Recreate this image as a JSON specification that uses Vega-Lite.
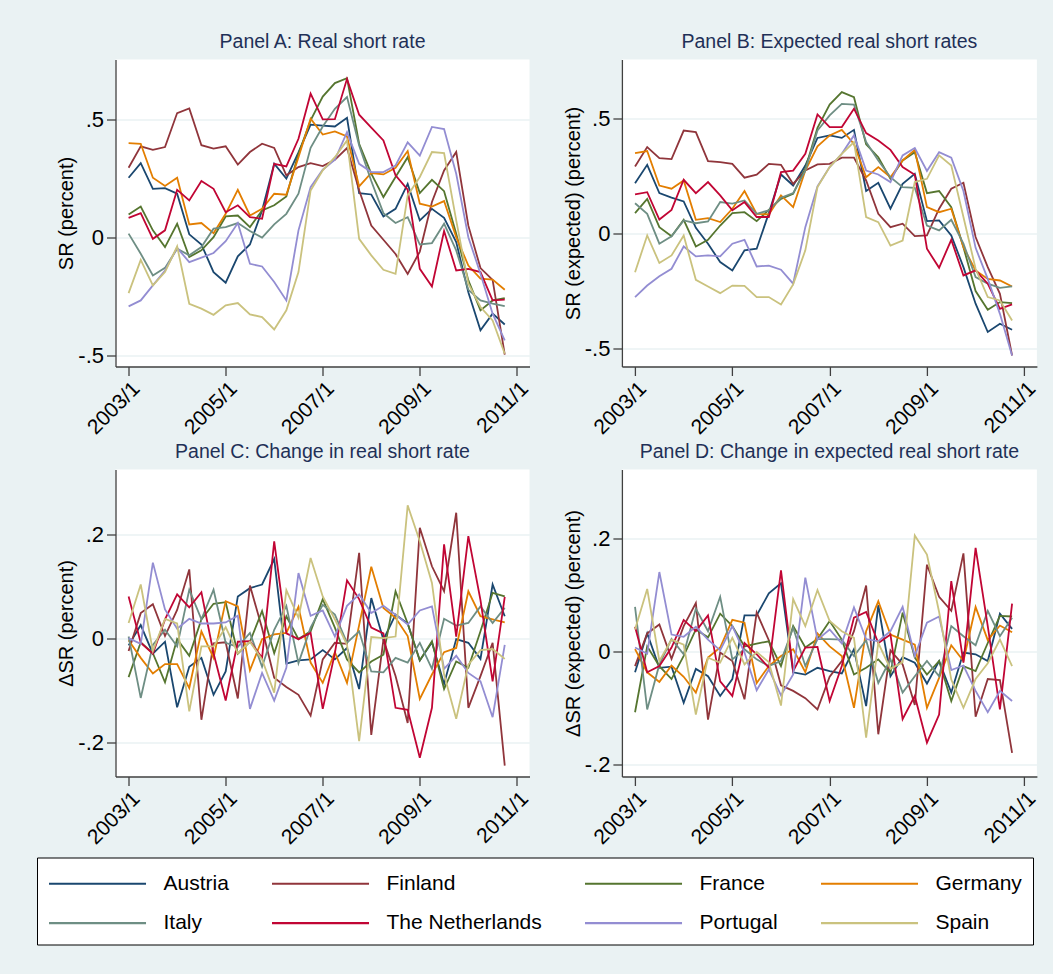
{
"$schema": "https://vega.github.io/schema/vega-lite/v6.json",
"background": "#eaf2f3",
"padding": {"left": 36.5, "top": 31.5, "right": 16.5, "bottom": 28.5},
"data": {"values": [
{"country":"Austria","year":2003,"sr":0.253,"sre":0.217,"dsr":-0.013,"dsre":-0.037},
{"country":"Austria","year":2003.25,"sr":0.315,"sre":0.297,"dsr":0.026,"dsre":0.032},
{"country":"Austria","year":2003.5,"sr":0.206,"sre":0.174,"dsr":-0.029,"dsre":-0.029},
{"country":"Austria","year":2003.75,"sr":0.209,"sre":0.154,"dsr":-0.006,"dsre":-0.027},
{"country":"Austria","year":2004,"sr":0.185,"sre":0.138,"dsr":-0.132,"dsre":-0.091},
{"country":"Austria","year":2004.25,"sr":0.013,"sre":0.023,"dsr":-0.054,"dsre":-0.031},
{"country":"Austria","year":2004.5,"sr":-0.03,"sre":-0.046,"dsr":-0.037,"dsre":-0.044},
{"country":"Austria","year":2004.75,"sr":-0.147,"sre":-0.126,"dsr":-0.108,"dsre":-0.079},
{"country":"Austria","year":2005,"sr":-0.192,"sre":-0.162,"dsr":-0.063,"dsre":-0.049},
{"country":"Austria","year":2005.25,"sr":-0.08,"sre":-0.075,"dsr":0.081,"dsre":0.064},
{"country":"Austria","year":2005.5,"sr":-0.03,"sre":-0.068,"dsr":0.097,"dsre":0.064},
{"country":"Austria","year":2005.75,"sr":0.114,"sre":0.087,"dsr":0.104,"dsre":0.103},
{"country":"Austria","year":2006,"sr":0.312,"sre":0.255,"dsr":0.153,"dsre":0.121},
{"country":"Austria","year":2006.25,"sr":0.249,"sre":0.207,"dsr":-0.048,"dsre":-0.037},
{"country":"Austria","year":2006.5,"sr":0.36,"sre":0.294,"dsr":-0.042,"dsre":-0.041},
{"country":"Austria","year":2006.75,"sr":0.478,"sre":0.414,"dsr":-0.04,"dsre":-0.029},
{"country":"Austria","year":2007,"sr":0.474,"sre":0.425,"dsr":-0.022,"dsre":-0.035},
{"country":"Austria","year":2007.25,"sr":0.47,"sre":0.414,"dsr":-0.04,"dsre":-0.039},
{"country":"Austria","year":2007.5,"sr":0.507,"sre":0.449,"dsr":-0.018,"dsre":0.004},
{"country":"Austria","year":2007.75,"sr":0.188,"sre":0.183,"dsr":-0.097,"dsre":-0.097},
{"country":"Austria","year":2008,"sr":0.182,"sre":0.219,"dsr":0.078,"dsre":0.082},
{"country":"Austria","year":2008.25,"sr":0.089,"sre":0.106,"dsr":-0.002,"dsre":-0.044},
{"country":"Austria","year":2008.5,"sr":0.121,"sre":0.214,"dsr":0.046,"dsre":-0.01},
{"country":"Austria","year":2008.75,"sr":0.227,"sre":0.258,"dsr":0.029,"dsre":-0.02},
{"country":"Austria","year":2009,"sr":0.072,"sre":0.052,"dsr":-0.042,"dsre":-0.057},
{"country":"Austria","year":2009.25,"sr":0.121,"sre":0.055,"dsr":-0.007,"dsre":-0.017},
{"country":"Austria","year":2009.5,"sr":0.083,"sre":-0.01,"dsr":-0.087,"dsre":-0.073},
{"country":"Austria","year":2009.75,"sr":-0.02,"sre":-0.148,"dsr":-0.001,"dsre":-0.002},
{"country":"Austria","year":2010,"sr":-0.232,"sre":-0.307,"dsr":-0.008,"dsre":-0.005},
{"country":"Austria","year":2010.25,"sr":-0.394,"sre":-0.43,"dsr":-0.039,"dsre":-0.017},
{"country":"Austria","year":2010.5,"sr":-0.323,"sre":-0.394,"dsr":0.104,"dsre":0.067},
{"country":"Austria","year":2010.75,"sr":-0.369,"sre":-0.42,"dsr":0.043,"dsre":0.04},
{"country":"Finland","year":2003,"sr":0.295,"sre":0.29,"dsr":-0.024,"dsre":-0.026},
{"country":"Finland","year":2003.25,"sr":0.386,"sre":0.374,"dsr":0.049,"dsre":0.032},
{"country":"Finland","year":2003.5,"sr":0.371,"sre":0.326,"dsr":0.066,"dsre":0.048},
{"country":"Finland","year":2003.75,"sr":0.383,"sre":0.322,"dsr":0.005,"dsre":-0.013},
{"country":"Finland","year":2004,"sr":0.527,"sre":0.446,"dsr":0.055,"dsre":0.045},
{"country":"Finland","year":2004.25,"sr":0.547,"sre":0.439,"dsr":0.133,"dsre":0.086},
{"country":"Finland","year":2004.5,"sr":0.391,"sre":0.313,"dsr":-0.156,"dsre":-0.121},
{"country":"Finland","year":2004.75,"sr":0.376,"sre":0.309,"dsr":-0.009,"dsre":-0.002},
{"country":"Finland","year":2005,"sr":0.386,"sre":0.301,"dsr":-0.007,"dsre":-0.017},
{"country":"Finland","year":2005.25,"sr":0.309,"sre":0.241,"dsr":-0.115,"dsre":-0.085},
{"country":"Finland","year":2005.5,"sr":0.362,"sre":0.254,"dsr":0.102,"dsre":0.069},
{"country":"Finland","year":2005.75,"sr":0.397,"sre":0.301,"dsr":0.02,"dsre":0.02},
{"country":"Finland","year":2006,"sr":0.379,"sre":0.297,"dsr":-0.075,"dsre":-0.06},
{"country":"Finland","year":2006.25,"sr":0.263,"sre":0.214,"dsr":-0.093,"dsre":-0.07},
{"country":"Finland","year":2006.5,"sr":0.298,"sre":0.272,"dsr":-0.108,"dsre":-0.083},
{"country":"Finland","year":2006.75,"sr":0.315,"sre":0.299,"dsr":-0.148,"dsre":-0.103},
{"country":"Finland","year":2007,"sr":0.302,"sre":0.301,"dsr":-0.04,"dsre":-0.045},
{"country":"Finland","year":2007.25,"sr":0.329,"sre":0.328,"dsr":-0.008,"dsre":-0.017},
{"country":"Finland","year":2007.5,"sr":0.379,"sre":0.328,"dsr":-0.01,"dsre":0.036},
{"country":"Finland","year":2007.75,"sr":0.2,"sre":0.229,"dsr":0.165,"dsre":0.117},
{"country":"Finland","year":2008,"sr":0.05,"sre":0.084,"dsr":-0.185,"dsre":-0.147},
{"country":"Finland","year":2008.25,"sr":-0.01,"sre":0.026,"dsr":-0.002,"dsre":0.002},
{"country":"Finland","year":2008.5,"sr":-0.07,"sre":0.041,"dsr":-0.072,"dsre":-0.023},
{"country":"Finland","year":2008.75,"sr":-0.155,"sre":-0.013,"dsr":-0.162,"dsre":-0.095},
{"country":"Finland","year":2009,"sr":-0.06,"sre":-0.01,"dsr":0.213,"dsre":0.154},
{"country":"Finland","year":2009.25,"sr":0.15,"sre":0.106,"dsr":0.139,"dsre":0.097},
{"country":"Finland","year":2009.5,"sr":0.284,"sre":0.193,"dsr":0.091,"dsre":0.072},
{"country":"Finland","year":2009.75,"sr":0.362,"sre":0.219,"dsr":0.242,"dsre":0.174},
{"country":"Finland","year":2010,"sr":0.05,"sre":-0.017,"dsr":-0.133,"dsre":-0.116},
{"country":"Finland","year":2010.25,"sr":-0.13,"sre":-0.148,"dsr":-0.072,"dsre":-0.049},
{"country":"Finland","year":2010.5,"sr":-0.18,"sre":-0.264,"dsr":-0.008,"dsre":-0.051},
{"country":"Finland","year":2010.75,"sr":-0.497,"sre":-0.532,"dsr":-0.244,"dsre":-0.18},
{"country":"France","year":2003,"sr":0.097,"sre":0.087,"dsr":-0.074,"dsre":-0.108},
{"country":"France","year":2003.25,"sr":0.131,"sre":0.149,"dsr":-0.007,"dsre":0.009},
{"country":"France","year":2003.5,"sr":0.03,"sre":0.026,"dsr":-0.028,"dsre":-0.026},
{"country":"France","year":2003.75,"sr":-0.041,"sre":-0.014,"dsr":-0.084,"dsre":-0.049},
{"country":"France","year":2004,"sr":0.058,"sre":0.058,"dsr":-0.001,"dsre":-0.008},
{"country":"France","year":2004.25,"sr":-0.083,"sre":-0.058,"dsr":-0.033,"dsre":0.039},
{"country":"France","year":2004.5,"sr":-0.055,"sre":-0.029,"dsr":0.037,"dsre":0.025},
{"country":"France","year":2004.75,"sr":0.001,"sre":0.033,"dsr":0.067,"dsre":0.067},
{"country":"France","year":2005,"sr":0.089,"sre":0.087,"dsr":0.07,"dsre":0.045},
{"country":"France","year":2005.25,"sr":0.093,"sre":0.091,"dsr":-0.029,"dsre":0.009},
{"country":"France","year":2005.5,"sr":0.044,"sre":0.052,"dsr":-0.006,"dsre":0.014},
{"country":"France","year":2005.75,"sr":0.114,"sre":0.101,"dsr":0.053,"dsre":0.018},
{"country":"France","year":2006,"sr":0.136,"sre":0.149,"dsr":-0.028,"dsre":-0.026},
{"country":"France","year":2006.25,"sr":0.174,"sre":0.171,"dsr":0.043,"dsre":0.045},
{"country":"France","year":2006.5,"sr":0.355,"sre":0.28,"dsr":-0.001,"dsre":0.007},
{"country":"France","year":2006.75,"sr":0.496,"sre":0.458,"dsr":0.014,"dsre":0.022},
{"country":"France","year":2007,"sr":0.597,"sre":0.559,"dsr":0.076,"dsre":0.054},
{"country":"France","year":2007.25,"sr":0.654,"sre":0.613,"dsr":0.021,"dsre":0.021},
{"country":"France","year":2007.5,"sr":0.675,"sre":0.591,"dsr":-0.04,"dsre":-0.041},
{"country":"France","year":2007.75,"sr":0.397,"sre":0.386,"dsr":-0.065,"dsre":-0.029},
{"country":"France","year":2008,"sr":0.27,"sre":0.33,"dsr":-0.044,"dsre":-0.014},
{"country":"France","year":2008.25,"sr":0.171,"sre":0.236,"dsr":-0.031,"dsre":-0.038},
{"country":"France","year":2008.5,"sr":0.256,"sre":0.316,"dsr":0.091,"dsre":0.069},
{"country":"France","year":2008.75,"sr":0.34,"sre":0.352,"dsr":0.029,"dsre":-0.011},
{"country":"France","year":2009,"sr":0.188,"sre":0.174,"dsr":-0.042,"dsre":-0.041},
{"country":"France","year":2009.25,"sr":0.244,"sre":0.183,"dsr":-0.005,"dsre":-0.017},
{"country":"France","year":2009.5,"sr":0.196,"sre":0.113,"dsr":-0.097,"dsre":-0.088},
{"country":"France","year":2009.75,"sr":0.016,"sre":-0.061,"dsr":-0.044,"dsre":-0.026},
{"country":"France","year":2010,"sr":-0.182,"sre":-0.252,"dsr":-0.056,"dsre":-0.035},
{"country":"France","year":2010.25,"sr":-0.309,"sre":-0.333,"dsr":0.014,"dsre":0.015},
{"country":"France","year":2010.5,"sr":-0.267,"sre":-0.3,"dsr":0.088,"dsre":0.063},
{"country":"France","year":2010.75,"sr":-0.257,"sre":-0.304,"dsr":0.081,"dsre":0.062},
{"country":"Germany","year":2003,"sr":0.4,"sre":0.348,"dsr":-0.003,"dsre":0.004},
{"country":"Germany","year":2003.25,"sr":0.397,"sre":0.357,"dsr":-0.037,"dsre":-0.037},
{"country":"Germany","year":2003.5,"sr":0.253,"sre":0.207,"dsr":-0.067,"dsre":-0.054},
{"country":"Germany","year":2003.75,"sr":0.218,"sre":0.193,"dsr":-0.049,"dsre":-0.025},
{"country":"Germany","year":2004,"sr":0.253,"sre":0.229,"dsr":-0.049,"dsre":-0.045},
{"country":"Germany","year":2004.25,"sr":0.055,"sre":0.058,"dsr":-0.095,"dsre":-0.073},
{"country":"Germany","year":2004.5,"sr":0.061,"sre":0.065,"dsr":0.014,"dsre":-0.011},
{"country":"Germany","year":2004.75,"sr":0.018,"sre":0.048,"dsr":-0.037,"dsre":0.007},
{"country":"Germany","year":2005,"sr":0.1,"sre":0.106,"dsr":0.072,"dsre":0.056},
{"country":"Germany","year":2005.25,"sr":0.202,"sre":0.183,"dsr":0.062,"dsre":0.051},
{"country":"Germany","year":2005.5,"sr":0.093,"sre":0.084,"dsr":-0.061,"dsre":-0.056},
{"country":"Germany","year":2005.75,"sr":0.121,"sre":0.081,"dsr":-0.001,"dsre":-0.026},
{"country":"Germany","year":2006,"sr":0.185,"sre":0.164,"dsr":0.008,"dsre":-0.008},
{"country":"Germany","year":2006.25,"sr":0.181,"sre":0.113,"dsr":0.011,"dsre":0.004},
{"country":"Germany","year":2006.5,"sr":0.34,"sre":0.272,"dsr":0.061,"dsre":-0.037},
{"country":"Germany","year":2006.75,"sr":0.503,"sre":0.377,"dsr":-0.046,"dsre":0.032},
{"country":"Germany","year":2007,"sr":0.436,"sre":0.425,"dsr":-0.085,"dsre":0.009},
{"country":"Germany","year":2007.25,"sr":0.449,"sre":0.449,"dsr":-0.026,"dsre":-0.008},
{"country":"Germany","year":2007.5,"sr":0.428,"sre":0.388,"dsr":-0.085,"dsre":-0.1},
{"country":"Germany","year":2007.75,"sr":0.216,"sre":0.243,"dsr":0.026,"dsre":0.036},
{"country":"Germany","year":2008,"sr":0.273,"sre":0.287,"dsr":0.138,"dsre":0.089},
{"country":"Germany","year":2008.25,"sr":0.267,"sre":0.243,"dsr":0.059,"dsre":0.03},
{"country":"Germany","year":2008.5,"sr":0.295,"sre":0.316,"dsr":0.04,"dsre":0.021},
{"country":"Germany","year":2008.75,"sr":0.366,"sre":0.362,"dsr":0.005,"dsre":0.012},
{"country":"Germany","year":2009,"sr":0.143,"sre":0.113,"dsr":-0.116,"dsre":-0.1},
{"country":"Germany","year":2009.25,"sr":0.131,"sre":0.091,"dsr":-0.069,"dsre":-0.047},
{"country":"Germany","year":2009.5,"sr":0.154,"sre":0.106,"dsr":-0.026,"dsre":0.011},
{"country":"Germany","year":2009.75,"sr":0.001,"sre":-0.061,"dsr":-0.018,"dsre":-0.017},
{"country":"Germany","year":2010,"sr":-0.119,"sre":-0.162,"dsr":0.091,"dsre":0.079},
{"country":"Germany","year":2010.25,"sr":-0.175,"sre":-0.199,"dsr":0.043,"dsre":0.02},
{"country":"Germany","year":2010.5,"sr":-0.179,"sre":-0.206,"dsr":0.037,"dsre":0.046},
{"country":"Germany","year":2010.75,"sr":-0.222,"sre":-0.232,"dsr":0.031,"dsre":0.034},
{"country":"Italy","year":2003,"sr":0.016,"sre":0.13,"dsr":0.004,"dsre":0.079},
{"country":"Italy","year":2003.25,"sr":-0.069,"sre":0.084,"dsr":-0.114,"dsre":-0.103},
{"country":"Italy","year":2003.5,"sr":-0.161,"sre":-0.046,"dsr":-0.012,"dsre":-0.023},
{"country":"Italy","year":2003.75,"sr":-0.129,"sre":-0.014,"dsr":0.017,"dsre":0.022},
{"country":"Italy","year":2004,"sr":-0.048,"sre":0.055,"dsr":-0.015,"dsre":-0.005},
{"country":"Italy","year":2004.25,"sr":-0.076,"sre":0.043,"dsr":0.094,"dsre":0.076},
{"country":"Italy","year":2004.5,"sr":-0.041,"sre":0.051,"dsr":0.037,"dsre":0.036},
{"country":"Italy","year":2004.75,"sr":0.037,"sre":0.135,"dsr":0.094,"dsre":0.097},
{"country":"Italy","year":2005,"sr":0.044,"sre":0.128,"dsr":-0.008,"dsre":-0.014},
{"country":"Italy","year":2005.25,"sr":0.061,"sre":0.142,"dsr":-0.016,"dsre":0.004},
{"country":"Italy","year":2005.5,"sr":0.027,"sre":0.084,"dsr":0.011,"dsre":-0.014},
{"country":"Italy","year":2005.75,"sr":-0.001,"sre":0.099,"dsr":-0.054,"dsre":-0.026},
{"country":"Italy","year":2006,"sr":0.055,"sre":0.154,"dsr":0.017,"dsre":-0.017},
{"country":"Italy","year":2006.25,"sr":0.1,"sre":0.174,"dsr":0.063,"dsre":0.042},
{"country":"Italy","year":2006.5,"sr":0.185,"sre":0.272,"dsr":-0.047,"dsre":-0.026},
{"country":"Italy","year":2006.75,"sr":0.38,"sre":0.446,"dsr":0.021,"dsre":0.022},
{"country":"Italy","year":2007,"sr":0.47,"sre":0.512,"dsr":0.065,"dsre":0.022},
{"country":"Italy","year":2007.25,"sr":0.545,"sre":0.562,"dsr":0.046,"dsre":0.021},
{"country":"Italy","year":2007.5,"sr":0.595,"sre":0.559,"dsr":-0.008,"dsre":-0.008},
{"country":"Italy","year":2007.75,"sr":0.39,"sre":0.396,"dsr":0.014,"dsre":0.02},
{"country":"Italy","year":2008,"sr":0.239,"sre":0.316,"dsr":-0.063,"dsre":-0.056},
{"country":"Italy","year":2008.25,"sr":0.103,"sre":0.243,"dsr":-0.065,"dsre":-0.014},
{"country":"Italy","year":2008.5,"sr":0.061,"sre":0.2,"dsr":-0.037,"dsre":-0.073},
{"country":"Italy","year":2008.75,"sr":0.086,"sre":0.197,"dsr":-0.046,"dsre":-0.044},
{"country":"Italy","year":2009,"sr":-0.03,"sre":0.033,"dsr":-0.008,"dsre":-0.017},
{"country":"Italy","year":2009.25,"sr":-0.024,"sre":0.012,"dsr":-0.058,"dsre":-0.044},
{"country":"Italy","year":2009.5,"sr":0.058,"sre":0.058,"dsr":0.038,"dsre":0.045},
{"country":"Italy","year":2009.75,"sr":-0.055,"sre":-0.046,"dsr":0.025,"dsre":0.027},
{"country":"Italy","year":2010,"sr":-0.222,"sre":-0.191,"dsr":0.03,"dsre":0.011},
{"country":"Italy","year":2010.25,"sr":-0.267,"sre":-0.22,"dsr":0.062,"dsre":0.072},
{"country":"Italy","year":2010.5,"sr":-0.281,"sre":-0.238,"dsr":0.03,"dsre":0.027},
{"country":"Italy","year":2010.75,"sr":-0.291,"sre":-0.232,"dsr":0.059,"dsre":0.06},
{"country":"The Netherlands","year":2003,"sr":0.083,"sre":0.168,"dsr":0.081,"dsre":0.044},
{"country":"The Netherlands","year":2003.25,"sr":0.103,"sre":0.178,"dsr":-0.008,"dsre":-0.037},
{"country":"The Netherlands","year":2003.5,"sr":-0.006,"sre":0.059,"dsr":-0.029,"dsre":-0.026},
{"country":"The Netherlands","year":2003.75,"sr":0.03,"sre":0.101,"dsr":0.037,"dsre":0.007},
{"country":"The Netherlands","year":2004,"sr":0.202,"sre":0.232,"dsr":0.085,"dsre":0.056},
{"country":"The Netherlands","year":2004.25,"sr":0.157,"sre":0.174,"dsr":0.06,"dsre":0.036},
{"country":"The Netherlands","year":2004.5,"sr":0.239,"sre":0.222,"dsr":0.089,"dsre":0.064},
{"country":"The Netherlands","year":2004.75,"sr":0.206,"sre":0.164,"dsr":-0.028,"dsre":-0.053},
{"country":"The Netherlands","year":2005,"sr":0.107,"sre":0.099,"dsr":-0.119,"dsre":-0.079},
{"country":"The Netherlands","year":2005.25,"sr":0.136,"sre":0.135,"dsr":-0.006,"dsre":0.015},
{"country":"The Netherlands","year":2005.5,"sr":0.086,"sre":0.07,"dsr":-0.005,"dsre":-0.005},
{"country":"The Netherlands","year":2005.75,"sr":0.079,"sre":0.07,"dsr":-0.037,"dsre":-0.029},
{"country":"The Netherlands","year":2006,"sr":0.312,"sre":0.265,"dsr":0.187,"dsre":0.144},
{"country":"The Netherlands","year":2006.25,"sr":0.301,"sre":0.272,"dsr":0.01,"dsre":-0.035},
{"country":"The Netherlands","year":2006.5,"sr":0.418,"sre":0.345,"dsr":-0.001,"dsre":0.007},
{"country":"The Netherlands","year":2006.75,"sr":0.609,"sre":0.516,"dsr":0.011,"dsre":0.008},
{"country":"The Netherlands","year":2007,"sr":0.5,"sre":0.461,"dsr":-0.135,"dsre":-0.088},
{"country":"The Netherlands","year":2007.25,"sr":0.501,"sre":0.461,"dsr":-0.028,"dsre":-0.026},
{"country":"The Netherlands","year":2007.5,"sr":0.672,"sre":0.541,"dsr":0.112,"dsre":0.06},
{"country":"The Netherlands","year":2007.75,"sr":0.52,"sre":0.435,"dsr":0.076,"dsre":0.07},
{"country":"The Netherlands","year":2008,"sr":0.465,"sre":0.403,"dsr":0.021,"dsre":0.015},
{"country":"The Netherlands","year":2008.25,"sr":0.411,"sre":0.362,"dsr":0.01,"dsre":0.03},
{"country":"The Netherlands","year":2008.5,"sr":0.263,"sre":0.287,"dsr":-0.133,"dsre":-0.12},
{"country":"The Netherlands","year":2008.75,"sr":0.202,"sre":0.254,"dsr":-0.137,"dsre":-0.079},
{"country":"The Netherlands","year":2009,"sr":-0.133,"sre":-0.068,"dsr":-0.229,"dsre":-0.162},
{"country":"The Netherlands","year":2009.25,"sr":-0.208,"sre":-0.151,"dsr":-0.133,"dsre":-0.112},
{"country":"The Netherlands","year":2009.5,"sr":0.027,"sre":-0.029,"dsr":0.181,"dsre":0.125},
{"country":"The Netherlands","year":2009.75,"sr":-0.14,"sre":-0.184,"dsr":0.004,"dsre":-0.02},
{"country":"The Netherlands","year":2010,"sr":-0.133,"sre":-0.162,"dsr":0.197,"dsre":0.184},
{"country":"The Netherlands","year":2010.25,"sr":-0.147,"sre":-0.22,"dsr":0.074,"dsre":0.045},
{"country":"The Netherlands","year":2010.5,"sr":-0.267,"sre":-0.329,"dsr":-0.082,"dsre":-0.103},
{"country":"The Netherlands","year":2010.75,"sr":-0.264,"sre":-0.31,"dsr":0.08,"dsre":0.085},
{"country":"Portugal","year":2003,"sr":-0.292,"sre":-0.278,"dsr":0.001,"dsre":0.007},
{"country":"Portugal","year":2003.25,"sr":-0.267,"sre":-0.228,"dsr":-0.01,"dsre":-0.004},
{"country":"Portugal","year":2003.5,"sr":-0.203,"sre":-0.188,"dsr":0.146,"dsre":0.141},
{"country":"Portugal","year":2003.75,"sr":-0.14,"sre":-0.155,"dsr":0.056,"dsre":0.03},
{"country":"Portugal","year":2004,"sr":-0.044,"sre":-0.058,"dsr":0.019,"dsre":0.026},
{"country":"Portugal","year":2004.25,"sr":-0.105,"sre":-0.101,"dsr":0.038,"dsre":0.044},
{"country":"Portugal","year":2004.5,"sr":-0.086,"sre":-0.097,"dsr":0.029,"dsre":0.021},
{"country":"Portugal","year":2004.75,"sr":-0.066,"sre":-0.101,"dsr":0.029,"dsre":0.002},
{"country":"Portugal","year":2005,"sr":-0.016,"sre":-0.046,"dsr":0.031,"dsre":0.045},
{"country":"Portugal","year":2005.25,"sr":0.061,"sre":-0.029,"dsr":0.044,"dsre":-0.002},
{"country":"Portugal","year":2005.5,"sr":-0.112,"sre":-0.145,"dsr":-0.135,"dsre":-0.069},
{"country":"Portugal","year":2005.75,"sr":-0.123,"sre":-0.141,"dsr":-0.066,"dsre":-0.032},
{"country":"Portugal","year":2006,"sr":-0.189,"sre":-0.159,"dsr":-0.119,"dsre":-0.078},
{"country":"Portugal","year":2006.25,"sr":-0.267,"sre":-0.22,"dsr":-0.056,"dsre":-0.041},
{"country":"Portugal","year":2006.5,"sr":0.03,"sre":0.026,"dsr":0.126,"dsre":0.131},
{"country":"Portugal","year":2006.75,"sr":0.213,"sre":0.203,"dsr":0.044,"dsre":0.021},
{"country":"Portugal","year":2007,"sr":0.287,"sre":0.287,"dsr":0.054,"dsre":0.039},
{"country":"Portugal","year":2007.25,"sr":0.329,"sre":0.345,"dsr":0.004,"dsre":0.014},
{"country":"Portugal","year":2007.5,"sr":0.446,"sre":0.425,"dsr":0.063,"dsre":0.078},
{"country":"Portugal","year":2007.75,"sr":0.312,"sre":0.272,"dsr":0.085,"dsre":0.022},
{"country":"Portugal","year":2008,"sr":0.277,"sre":0.255,"dsr":0.049,"dsre":0.018},
{"country":"Portugal","year":2008.25,"sr":0.277,"sre":0.222,"dsr":0.063,"dsre":0.036},
{"country":"Portugal","year":2008.5,"sr":0.305,"sre":0.338,"dsr":0.046,"dsre":0.079},
{"country":"Portugal","year":2008.75,"sr":0.403,"sre":0.37,"dsr":0.027,"dsre":-0.008},
{"country":"Portugal","year":2009,"sr":0.347,"sre":0.27,"dsr":0.054,"dsre":0.051},
{"country":"Portugal","year":2009.25,"sr":0.468,"sre":0.352,"dsr":0.062,"dsre":0.062},
{"country":"Portugal","year":2009.5,"sr":0.459,"sre":0.328,"dsr":-0.058,"dsre":-0.033},
{"country":"Portugal","year":2009.75,"sr":0.27,"sre":0.183,"dsr":-0.033,"dsre":-0.025},
{"country":"Portugal","year":2010,"sr":0.001,"sre":-0.064,"dsr":-0.066,"dsre":-0.07},
{"country":"Portugal","year":2010.25,"sr":-0.154,"sre":-0.199,"dsr":-0.082,"dsre":-0.108},
{"country":"Portugal","year":2010.5,"sr":-0.323,"sre":-0.351,"dsr":-0.151,"dsre":-0.07},
{"country":"Portugal","year":2010.75,"sr":-0.436,"sre":-0.532,"dsr":-0.012,"dsre":-0.088},
{"country":"Spain","year":2003,"sr":-0.236,"sre":-0.17,"dsr":0.03,"dsre":0.039},
{"country":"Spain","year":2003.25,"sr":-0.095,"sre":-0.01,"dsr":0.104,"dsre":0.111},
{"country":"Spain","year":2003.5,"sr":-0.203,"sre":-0.13,"dsr":-0.024,"dsre":-0.017},
{"country":"Spain","year":2003.75,"sr":-0.147,"sre":-0.097,"dsr":0.038,"dsre":0.021},
{"country":"Spain","year":2004,"sr":-0.038,"sre":-0.01,"dsr":0.029,"dsre":0.012},
{"country":"Spain","year":2004.25,"sr":-0.281,"sre":-0.203,"dsr":-0.14,"dsre":-0.112},
{"country":"Spain","year":2004.5,"sr":-0.302,"sre":-0.232,"dsr":-0.015,"dsre":-0.011},
{"country":"Spain","year":2004.75,"sr":-0.328,"sre":-0.261,"dsr":-0.015,"dsre":-0.02},
{"country":"Spain","year":2005,"sr":-0.288,"sre":-0.228,"dsr":0.022,"dsre":0.024},
{"country":"Spain","year":2005.25,"sr":-0.278,"sre":-0.229,"dsr":-0.028,"dsre":-0.023},
{"country":"Spain","year":2005.5,"sr":-0.326,"sre":-0.278,"dsr":-0.006,"dsre":-0.001},
{"country":"Spain","year":2005.75,"sr":-0.338,"sre":-0.278,"dsr":-0.04,"dsre":-0.019},
{"country":"Spain","year":2006,"sr":-0.39,"sre":-0.31,"dsr":-0.104,"dsre":-0.096},
{"country":"Spain","year":2006.25,"sr":-0.309,"sre":-0.223,"dsr":0.093,"dsre":0.093},
{"country":"Spain","year":2006.5,"sr":-0.147,"sre":-0.075,"dsr":0.04,"dsre":0.045},
{"country":"Spain","year":2006.75,"sr":0.199,"sre":0.2,"dsr":0.155,"dsre":0.109},
{"country":"Spain","year":2007,"sr":0.284,"sre":0.287,"dsr":0.081,"dsre":0.054},
{"country":"Spain","year":2007.25,"sr":0.34,"sre":0.345,"dsr":0.037,"dsre":0.036},
{"country":"Spain","year":2007.5,"sr":0.411,"sre":0.396,"dsr":-0.012,"dsre":0.024},
{"country":"Spain","year":2007.75,"sr":-0.006,"sre":0.07,"dsr":-0.197,"dsre":-0.153},
{"country":"Spain","year":2008,"sr":-0.076,"sre":0.048,"dsr":0.003,"dsre":0.015},
{"country":"Spain","year":2008.25,"sr":-0.137,"sre":-0.054,"dsr":0.001,"dsre":-0.031},
{"country":"Spain","year":2008.5,"sr":-0.154,"sre":-0.032,"dsr":0.004,"dsre":-0.019},
{"country":"Spain","year":2008.75,"sr":0.178,"sre":0.222,"dsr":0.256,"dsre":0.206},
{"country":"Spain","year":2009,"sr":0.256,"sre":0.236,"dsr":0.187,"dsre":0.172},
{"country":"Spain","year":2009.25,"sr":0.362,"sre":0.338,"dsr":0.107,"dsre":0.07},
{"country":"Spain","year":2009.5,"sr":0.357,"sre":0.294,"dsr":-0.069,"dsre":-0.05},
{"country":"Spain","year":2009.75,"sr":0.072,"sre":0.07,"dsr":-0.154,"dsre":-0.1},
{"country":"Spain","year":2010,"sr":-0.196,"sre":-0.155,"dsr":-0.05,"dsre":-0.049},
{"country":"Spain","year":2010.25,"sr":-0.295,"sre":-0.278,"dsr":-0.022,"dsre":-0.021},
{"country":"Spain","year":2010.5,"sr":-0.352,"sre":-0.293,"dsr":-0.02,"dsre":0.021},
{"country":"Spain","year":2010.75,"sr":-0.493,"sre":-0.38,"dsr":-0.039,"dsre":-0.026}
]},
"columns": 2,
"spacing": {"row": 103, "column": 92.4},
"bounds": "flush",
"resolve": {"scale": {"color": "shared"}, "legend": {"color": "shared"}},
"concat": [
{
"width": 414, "height": 307,
"title": "Panel A: Real short rate",
"mark": {"type": "line", "strokeWidth": 1.8},
"encoding": {
"x": {"field": "year", "type": "quantitative", "scale": {"domain": [2002.73, 2011.26], "nice": false, "zero": false}, "axis": {"values": [2003, 2005, 2007, 2009, 2011], "labelExpr": "datum.value + '/1'", "title": null}},
"y": {"field": "sr", "type": "quantitative", "scale": {"domain": [-0.547, 0.754], "nice": false, "zero": false}, "axis": {"values": [-0.5, 0, 0.5], "labelExpr": "datum.value == 0 ? '0' : (datum.value < 0 ? '-' : '') + substring(toString(abs(datum.value)), 1)", "title": "SR (percent)"}},
"color": {"field": "country", "type": "nominal", "scale": {"domain": ["Austria", "Finland", "France", "Germany", "Italy", "The Netherlands", "Portugal", "Spain"], "range": ["#1a476f", "#90353b", "#55752f", "#e37e00", "#6e8e84", "#c10534", "#938dd2", "#cac27e"]}, "legend": {"orient": "none", "legendX": -78.5, "legendY": 798, "title": null, "columns": 4, "direction": "horizontal", "symbolType": "M-1,0H5.93", "symbolSize": 784, "symbolStrokeWidth": 2.2, "labelFontSize": 21, "labelFont": "Liberation Sans", "labelColor": "black", "labelOffset": 85, "labelLimit": 400, "columnPadding": 38, "rowPadding": 13.6, "padding": 10.5, "fillColor": "white", "strokeColor": "black", "cornerRadius": 0}}
}
},
{
"width": 415, "height": 307,
"title": "Panel B: Expected real short rates",
"mark": {"type": "line", "strokeWidth": 1.8},
"encoding": {
"x": {"field": "year", "type": "quantitative", "scale": {"domain": [2002.73, 2011.26], "nice": false, "zero": false}, "axis": {"values": [2003, 2005, 2007, 2009, 2011], "labelExpr": "datum.value + '/1'", "title": null}},
"y": {"field": "sre", "type": "quantitative", "scale": {"domain": [-0.58, 0.755], "nice": false, "zero": false}, "axis": {"values": [-0.5, 0, 0.5], "labelExpr": "datum.value == 0 ? '0' : (datum.value < 0 ? '-' : '') + substring(toString(abs(datum.value)), 1)", "title": "SR (expected) (percent)"}},
"color": {"field": "country", "type": "nominal", "scale": {"domain": ["Austria", "Finland", "France", "Germany", "Italy", "The Netherlands", "Portugal", "Spain"], "range": ["#1a476f", "#90353b", "#55752f", "#e37e00", "#6e8e84", "#c10534", "#938dd2", "#cac27e"]}, "legend": {"orient": "none", "legendX": -78.5, "legendY": 798, "title": null, "columns": 4, "direction": "horizontal", "symbolType": "M-1,0H5.93", "symbolSize": 784, "symbolStrokeWidth": 2.2, "labelFontSize": 21, "labelFont": "Liberation Sans", "labelColor": "black", "labelOffset": 85, "labelLimit": 400, "columnPadding": 38, "rowPadding": 13.6, "padding": 10.5, "fillColor": "white", "strokeColor": "black", "cornerRadius": 0}}
}
},
{
"width": 414, "height": 307,
"title": "Panel C: Change in real short rate",
"mark": {"type": "line", "strokeWidth": 1.8},
"encoding": {
"x": {"field": "year", "type": "quantitative", "scale": {"domain": [2002.73, 2011.26], "nice": false, "zero": false}, "axis": {"values": [2003, 2005, 2007, 2009, 2011], "labelExpr": "datum.value + '/1'", "title": null}},
"y": {"field": "dsr", "type": "quantitative", "scale": {"domain": [-0.265, 0.325], "nice": false, "zero": false}, "axis": {"values": [-0.2, 0, 0.2], "labelExpr": "datum.value == 0 ? '0' : (datum.value < 0 ? '-' : '') + substring(toString(abs(datum.value)), 1)", "title": "ΔSR (percent)"}},
"color": {"field": "country", "type": "nominal", "scale": {"domain": ["Austria", "Finland", "France", "Germany", "Italy", "The Netherlands", "Portugal", "Spain"], "range": ["#1a476f", "#90353b", "#55752f", "#e37e00", "#6e8e84", "#c10534", "#938dd2", "#cac27e"]}, "legend": {"orient": "none", "legendX": -78.5, "legendY": 798, "title": null, "columns": 4, "direction": "horizontal", "symbolType": "M-1,0H5.93", "symbolSize": 784, "symbolStrokeWidth": 2.2, "labelFontSize": 21, "labelFont": "Liberation Sans", "labelColor": "black", "labelOffset": 85, "labelLimit": 400, "columnPadding": 38, "rowPadding": 13.6, "padding": 10.5, "fillColor": "white", "strokeColor": "black", "cornerRadius": 0}}
}
},
{
"width": 415, "height": 307,
"title": "Panel D: Change in expected real short rate",
"mark": {"type": "line", "strokeWidth": 1.8},
"encoding": {
"x": {"field": "year", "type": "quantitative", "scale": {"domain": [2002.73, 2011.26], "nice": false, "zero": false}, "axis": {"values": [2003, 2005, 2007, 2009, 2011], "labelExpr": "datum.value + '/1'", "title": null}},
"y": {"field": "dsre", "type": "quantitative", "scale": {"domain": [-0.222, 0.323], "nice": false, "zero": false}, "axis": {"values": [-0.2, 0, 0.2], "labelExpr": "datum.value == 0 ? '0' : (datum.value < 0 ? '-' : '') + substring(toString(abs(datum.value)), 1)", "title": "ΔSR (expected) (percent)"}},
"color": {"field": "country", "type": "nominal", "scale": {"domain": ["Austria", "Finland", "France", "Germany", "Italy", "The Netherlands", "Portugal", "Spain"], "range": ["#1a476f", "#90353b", "#55752f", "#e37e00", "#6e8e84", "#c10534", "#938dd2", "#cac27e"]}, "legend": {"orient": "none", "legendX": -78.5, "legendY": 798, "title": null, "columns": 4, "direction": "horizontal", "symbolType": "M-1,0H5.93", "symbolSize": 784, "symbolStrokeWidth": 2.2, "labelFontSize": 21, "labelFont": "Liberation Sans", "labelColor": "black", "labelOffset": 85, "labelLimit": 400, "columnPadding": 38, "rowPadding": 13.6, "padding": 10.5, "fillColor": "white", "strokeColor": "black", "cornerRadius": 0}}
}
}
],
"config": {
"font": "Liberation Sans",
"view": {"fill": "white", "stroke": null},
"axis": {"domainColor": "#404040", "tickColor": "#404040", "domainWidth": 1.3, "tickWidth": 1.3, "tickSize": 9, "labelColor": "black", "titleColor": "black", "labelFont": "Liberation Sans", "titleFont": "Liberation Sans", "titleFontWeight": "normal", "titleFontSize": 20, "gridColor": "#eaf2f3", "gridWidth": 1.5},
"axisX": {"grid": false, "labelAngle": -45, "labelFontSize": 21, "labelPadding": 2},
"axisY": {"labelAngle": 0, "labelFontSize": 22, "labelPadding": 3, "titlePadding": 1},
"title": {"fontSize": 19.5, "fontWeight": "normal", "color": "#1f3057", "offset": 7, "frame": "group", "font": "Liberation Sans"}
}
}
